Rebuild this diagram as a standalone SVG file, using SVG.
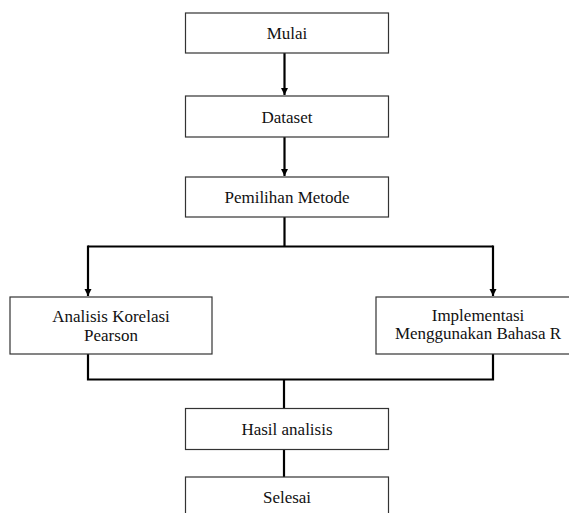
<svg xmlns="http://www.w3.org/2000/svg" width="569" height="513" viewBox="0 0 569 513">
<style>
.box{fill:#fff;stroke:#333;stroke-width:1.2}
.t{font-family:'Liberation Serif','DejaVu Serif',serif;font-size:17px;fill:#111;text-anchor:middle}
.c{fill:none;stroke:#000;stroke-width:2.2}
</style>
<defs>
<marker id="ah" markerWidth="8" markerHeight="8" refX="7" refY="4" orient="auto" markerUnits="userSpaceOnUse">
<path d="M0,0.5 L7,4 L0,7.5 Z" fill="#000"/>
</marker>
</defs>
<rect width="569" height="513" fill="#fff"/>
<g id="connectors">
<path class="c" d="M284.5,53 V95" marker-end="url(#ah)"/>
<path class="c" d="M284.5,137 V176" marker-end="url(#ah)"/>
<path class="c" d="M284.5,217 V246.5"/>
<path class="c" d="M88,246.5 H493"/>
<path class="c" d="M88,245.5 V296" marker-end="url(#ah)"/>
<path class="c" d="M493,245.5 V296" marker-end="url(#ah)"/>
<path class="c" d="M88,354 V379.5 H493 V354"/>
<path class="c" d="M284,379.5 V408"/>
<path class="c" d="M284,449 V477"/>
</g>
<g id="mulai"><rect class="box" x="185.5" y="13" width="203" height="40"/><text class="t" x="287" y="39">Mulai</text></g>
<g id="dataset"><rect class="box" x="185.5" y="96" width="203" height="41"/><text class="t" x="287" y="122.5">Dataset</text></g>
<g id="pemilihan"><rect class="box" x="185.5" y="177" width="203" height="40"/><text class="t" x="287" y="203">Pemilihan Metode</text></g>
<g id="analisis"><rect class="box" x="10" y="297" width="202" height="57"/><text class="t" x="111" y="322">Analisis Korelasi</text><text class="t" x="111" y="340.5">Pearson</text></g>
<g id="implementasi"><rect class="box" x="376" y="297" width="204" height="57"/><text class="t" x="478" y="321">Implementasi</text><text class="t" x="478" y="339">Menggunakan Bahasa R</text></g>
<g id="hasil"><rect class="box" x="185.5" y="408.5" width="203" height="41"/><text class="t" x="287" y="435">Hasil analisis</text></g>
<g id="selesai"><rect class="box" x="185.5" y="477" width="203" height="42"/><text class="t" x="287" y="503">Selesai</text></g>
</svg>
